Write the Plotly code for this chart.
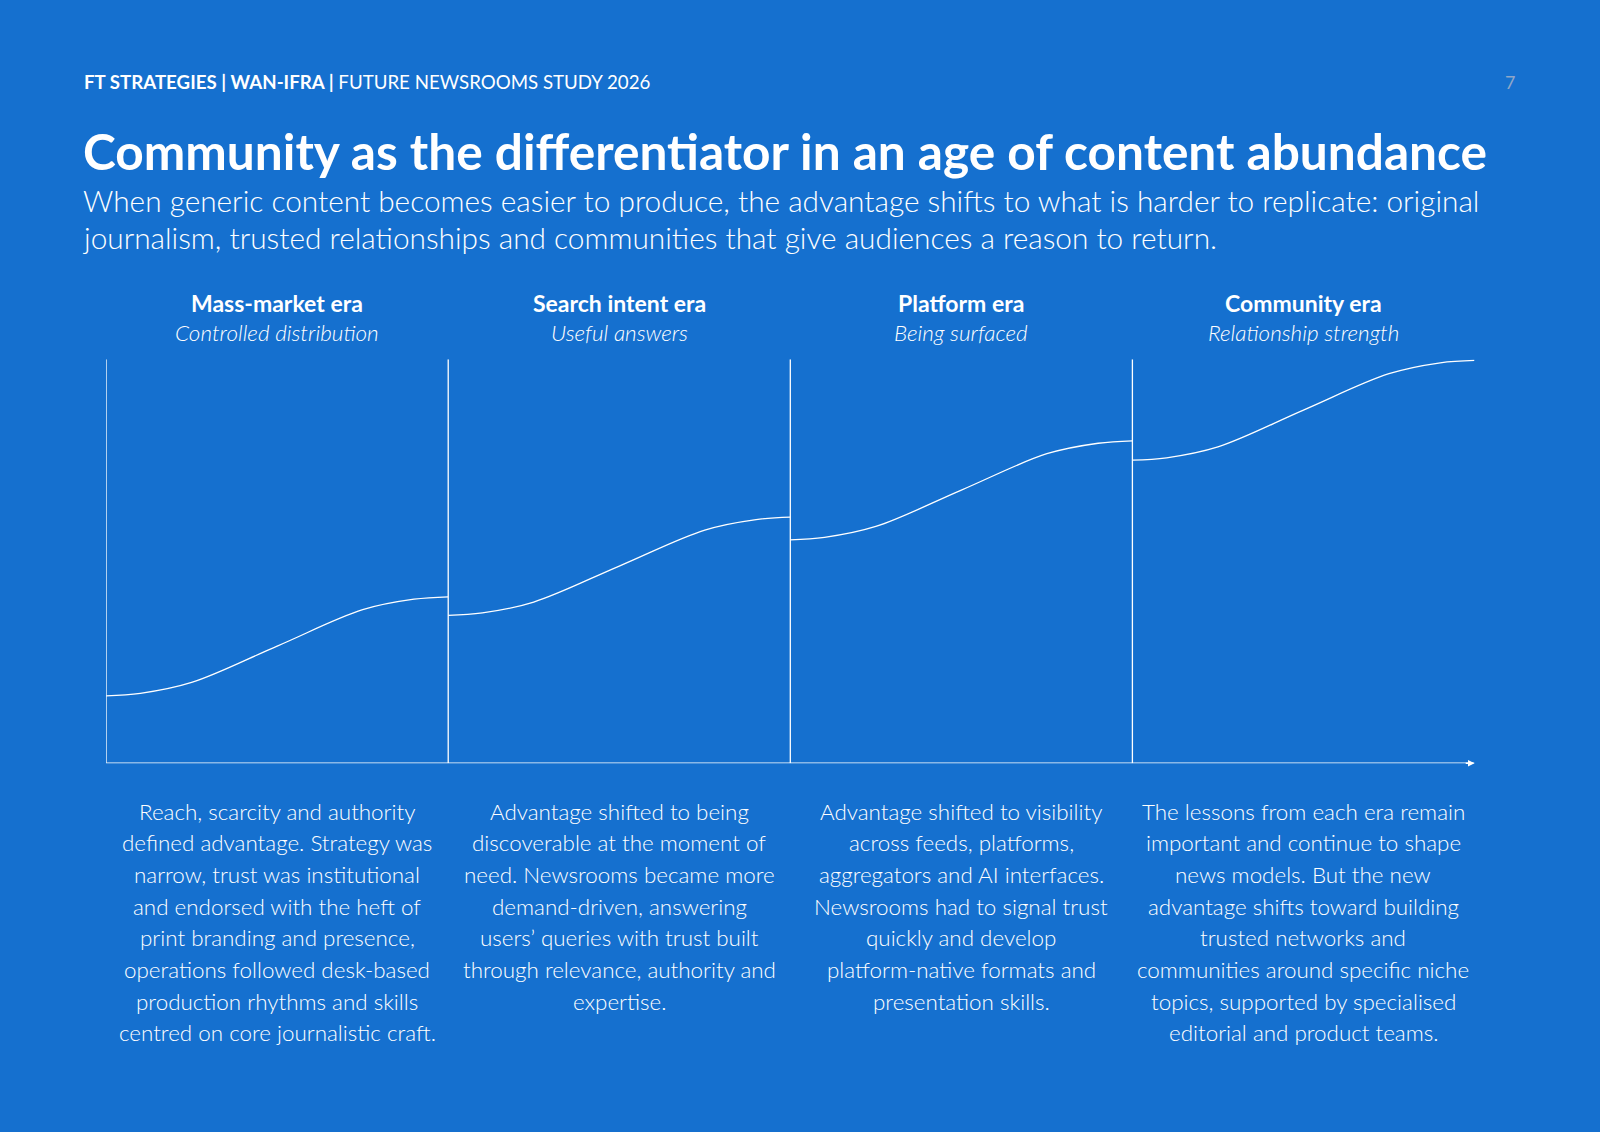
import plotly.graph_objects as go

eras = ["Mass-market era", "Search intent era", "Platform era", "Community era"]
era_subs = ["Controlled distribution", "Useful answers", "Being surfaced", "Relationship strength"]
descriptions = [
    ["Reach, scarcity and authority", "defined advantage. Strategy was", "narrow, trust was institutional",
     "and endorsed with the heft of", "print branding and presence,", "operations followed desk-based",
     "production rhythms and skills", "centred on core journalistic craft."],
    ["Advantage shifted to being", "discoverable at the moment of", "need. Newsrooms became more",
     "demand-driven, answering", "users’ queries with trust built", "through relevance, authority and",
     "expertise."],
    ["Advantage shifted to visibility", "across feeds, platforms,", "aggregators and AI interfaces.",
     "Newsrooms had to signal trust", "quickly and develop", "platform-native formats and",
     "presentation skills."],
    ["The lessons from each era remain", "important and continue to shape", "news models. But the new",
     "advantage shifts toward building", "trusted networks and", "communities around specific niche",
     "topics, supported by specialised", "editorial and product teams."],
]
# relative advantage within each era, read from the S-curves
curve_x = [0, 0.1, 0.25, 0.5, 0.75, 0.9, 1]
era_curves = [
    [16.7, 17.3, 20.0, 29.0, 38.0, 40.6, 41.2],
    [36.6, 37.2, 39.9, 48.8, 57.7, 60.3, 60.9],
    [55.3, 55.9, 58.6, 67.6, 76.6, 79.2, 79.8],
    [75.0, 75.6, 78.3, 87.4, 96.4, 99.1, 99.7],
]
top = 100

BG = "#1570CF"
W = "#FFFFFF"
FONT = "Lato, Noto Sans, sans-serif"
H = 1132
S = 1 / 0.98  # layout positions below measured on a 0.98-scaled view

fig = go.Figure()
for i, ys in enumerate(era_curves):
    fig.add_trace(go.Scatter(
        x=[i + v for v in curve_x], y=ys, mode="lines",
        line=dict(color=W, width=1.3, shape="spline", smoothing=1.0),
        hoverinfo="skip", showlegend=False))

for i in range(0, 4):
    fig.add_shape(type="line", x0=i, x1=i, y0=0, y1=top, line=dict(color=W, width=1.3))
fig.add_shape(type="line", x0=0, x1=4, y0=0, y1=0, line=dict(color=W, width=1.3))
fig.add_annotation(x=4, y=0, ax=3.97, ay=0, xref="x", yref="y", axref="x", ayref="y",
                   text="", showarrow=True, arrowhead=2, arrowsize=1, arrowwidth=1.3,
                   arrowcolor=W)

for i, (name, sub, desc) in enumerate(zip(eras, era_subs, descriptions)):
    cx = i + 0.5
    fig.add_annotation(x=cx, y=297, xref="x", yref="paper", yanchor="middle",
                       text=f"<b>{name}</b>", showarrow=False,
                       font=dict(family=FONT, size=23, color=W))
    fig.add_annotation(x=cx, y=326, xref="x", yref="paper", yanchor="middle",
                       text=f"<i>{sub}</i>", showarrow=False,
                       font=dict(family=FONT, size=22.5, color=W, weight=300))
    for k, line in enumerate(desc):
        fig.add_annotation(x=cx, y=795 + 31 * k, xref="x", yref="paper", yanchor="middle",
                           text=line, showarrow=False,
                           font=dict(family=FONT, size=22.4, color=W, weight=300))

fig.add_annotation(x=80, y=80, xref="paper", yref="paper", xanchor="left", yanchor="middle",
                   text="<b>FT STRATEGIES | WAN-IFRA |</b> FUTURE NEWSROOMS STUDY 2026",
                   showarrow=False, font=dict(family=FONT, size=18.7, color=W))
fig.add_annotation(x=1487, y=80, xref="paper", yref="paper", xanchor="right", yanchor="middle",
                   text="7", showarrow=False, font=dict(family=FONT, size=18, color="#8FA6C8"))
fig.add_annotation(x=79, y=148, xref="paper", yref="paper", xanchor="left", yanchor="middle",
                   text="<b>Community as the differentiator in an age of content abundance</b>",
                   showarrow=False, font=dict(family=FONT, size=49.6, color=W))
for k, line in enumerate([
        "When generic content becomes easier to produce, the advantage shifts to what is harder to replicate: original",
        "journalism, trusted relationships and communities that give audiences a reason to return."]):
    fig.add_annotation(x=79, y=196 + 37 * k, xref="paper", yref="paper", xanchor="left",
                       yanchor="middle", text=line, showarrow=False,
                       font=dict(family=FONT, size=29.8, color=W, weight=300))

# convert pixel positions of paper annotations to paper fractions
for a in fig.layout.annotations:
    if a.yref == "paper":
        a.y = 1 - a.y * S / H
    if a.xref == "paper":
        a.x = a.x * S / 1600

fig.update_layout(
    width=1600, height=H, margin=dict(l=0, r=0, t=0, b=0),
    paper_bgcolor=BG, plot_bgcolor=BG,
    xaxis=dict(domain=[104 * S / 1600, 1445 * S / 1600], range=[0, 4], visible=False),
    yaxis=dict(domain=[1 - 748 * S / H, 1 - 352 * S / H], range=[0, top], visible=False),
)
fig.write_html("out.html", config={"displayModeBar": False},
               post_script="document.body.style.margin='0';document.body.style.background='#1570CF';")
